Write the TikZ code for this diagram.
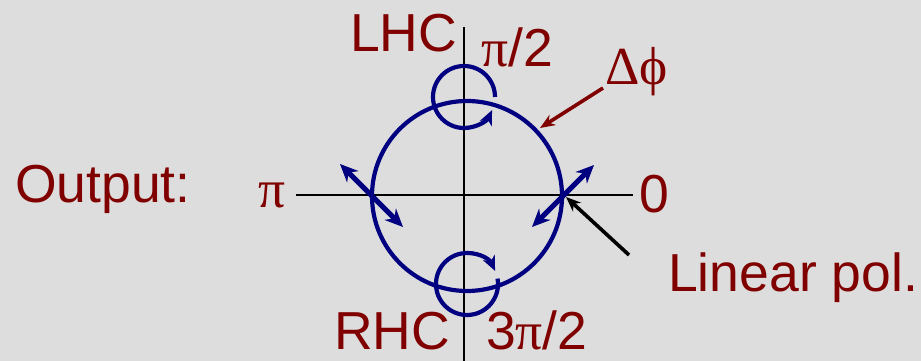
\documentclass[tikz,border=0pt]{standalone}
\usepackage{fontspec}
\setmainfont{Liberation Sans}
\newfontfamily\grk{Liberation Serif}
\usetikzlibrary{arrows.meta}
\definecolor{bg}{HTML}{DDDDDD}
\definecolor{dred}{HTML}{800000}
\definecolor{navy}{HTML}{000080}
\begin{document}
\begin{tikzpicture}[x=1pt,y=1pt,
  lbl/.style={anchor=base west,inner sep=0pt,text=dred,font=\fontsize{53.5}{60}\selectfont},
  axis/.style={black,line width=2.8pt},
  polc/.style={navy,line width=4.2pt},
  circarrow/.style={navy,line width=4.2pt,-{Stealth[length=15pt,width=13pt]}},
  linarrow/.style={navy,line width=5pt,{Stealth[length=18pt,width=16pt]}-{Stealth[length=18pt,width=16pt]}},
  pointer/.style={line width=3.6pt,-{Stealth[length=15pt,width=12pt]}}]
\useasboundingbox (0,0) rectangle (921,361);
\fill[bg] (0,0) rectangle (921,361);
% axes
\coordinate (vtop) at (464,334);
\coordinate (vbot) at (464,0);
\coordinate (hl) at (296,166);
\coordinate (hr) at (633,166);
\draw[axis] (vtop) -- (vbot);
\draw[axis] (hl) -- (hr);
% big circle
\coordinate (C) at (467,165);
\draw[polc] (C) circle[radius=95];
% LHC small circle (top)
\coordinate (T) at (464,264);
\draw[circarrow] (T) ++(0:31) arc[start angle=0,end angle=335,radius=31];
% RHC small circle (bottom)
\coordinate (B) at (467,77);
\draw[circarrow] (B) ++(10:31) arc[start angle=10,end angle=-335,radius=31];
% linear polarisation arrows
\coordinate (r1) at (532,134);
\coordinate (r2) at (594,196);
\draw[linarrow] (r1) -- (r2);
\coordinate (l1) at (340,197);
\coordinate (l2) at (403,134);
\draw[linarrow] (l1) -- (l2);
% labels
\node[lbl] (out) at (15,158) {Output:};
\node[lbl] (pi) at (258,153) {\grk π};
\node[lbl] (zero) at (639,148) {0};
\node[lbl] (lhc) at (350,309) {LHC};
\node[lbl] (pi2) at (481,294) {{\grk π}/2};
\node[lbl] (dphi) at (605,276) {\grk Δϕ};
\node[lbl] (lin) at (668,69) {Linear pol.};
\node[lbl] (rhc) at (334,11) {RHC};
\node[lbl] (tpi2) at (486,11) {3{\grk π}/2};
% pointers
\coordinate (dtail) at (603,273);
\coordinate (dhead) at (540,233);
\draw[pointer,dred] (dtail) -- (dhead);
\coordinate (ltail) at (629,106);
\coordinate (lhead) at (566,164);
\draw[pointer,black] (ltail) -- (lhead);
\end{tikzpicture}
\end{document}
